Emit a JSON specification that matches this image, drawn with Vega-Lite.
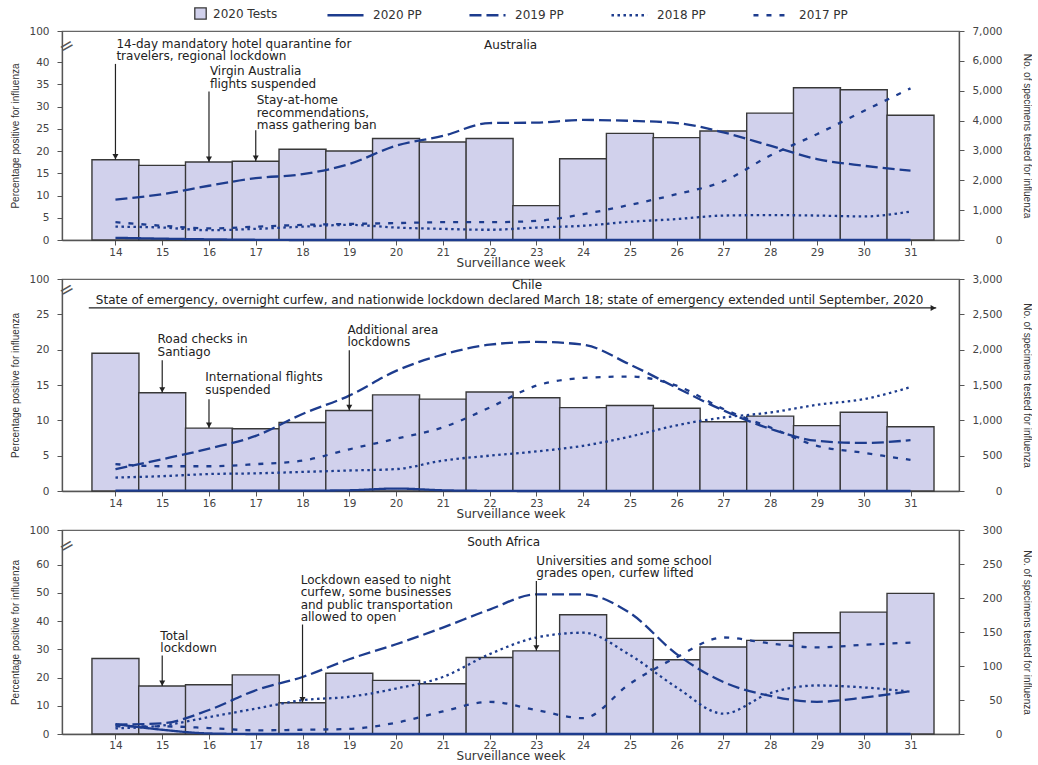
{
"$schema": "https://vega.github.io/schema/vega-lite/v6.json",
"padding": {"left": 10, "top": -5, "right": 0, "bottom": 0},
"spacing": 3,
"config": {
  "font": "DejaVu Sans",
  "view": {"stroke": "#666", "strokeWidth": 1.2},
  "axis": {"grid": false, "domainColor": "#555", "tickColor": "#555", "labelColor": "#444", "labelFontSize": 10.5, "titleColor": "#333", "titleFontWeight": "normal", "domainWidth": 1.3, "tickSize": 5},
  "legend": {"labelFontSize": 12, "labelColor": "#333", "labelFont": "DejaVu Sans"}
},
"datasets": {
  "bars": [
    {"c":"A","w":14,"t":2690},{"c":"A","w":15,"t":2500},{"c":"A","w":16,"t":2610},{"c":"A","w":17,"t":2640},{"c":"A","w":18,"t":3040},{"c":"A","w":19,"t":2980},{"c":"A","w":20,"t":3400},{"c":"A","w":21,"t":3280},{"c":"A","w":22,"t":3400},{"c":"A","w":23,"t":1150},{"c":"A","w":24,"t":2720},{"c":"A","w":25,"t":3570},{"c":"A","w":26,"t":3430},{"c":"A","w":27,"t":3650},{"c":"A","w":28,"t":4250},{"c":"A","w":29,"t":5100},{"c":"A","w":30,"t":5030},{"c":"A","w":31,"t":4180},
    {"c":"C","w":14,"t":1950},{"c":"C","w":15,"t":1390},{"c":"C","w":16,"t":890},{"c":"C","w":17,"t":880},{"c":"C","w":18,"t":970},{"c":"C","w":19,"t":1140},{"c":"C","w":20,"t":1360},{"c":"C","w":21,"t":1300},{"c":"C","w":22,"t":1400},{"c":"C","w":23,"t":1320},{"c":"C","w":24,"t":1180},{"c":"C","w":25,"t":1210},{"c":"C","w":26,"t":1170},{"c":"C","w":27,"t":980},{"c":"C","w":28,"t":1060},{"c":"C","w":29,"t":925},{"c":"C","w":30,"t":1115},{"c":"C","w":31,"t":910},
    {"c":"S","w":14,"t":111},{"c":"S","w":15,"t":70.6},{"c":"S","w":16,"t":72.5},{"c":"S","w":17,"t":87},{"c":"S","w":18,"t":46},{"c":"S","w":19,"t":89.4},{"c":"S","w":20,"t":78.8},{"c":"S","w":21,"t":73.9},{"c":"S","w":22,"t":112.6},{"c":"S","w":23,"t":122.3},{"c":"S","w":24,"t":175.4},{"c":"S","w":25,"t":140.6},{"c":"S","w":26,"t":109.3},{"c":"S","w":27,"t":128},{"c":"S","w":28,"t":137.7},{"c":"S","w":29,"t":148.8},{"c":"S","w":30,"t":179.3},{"c":"S","w":31,"t":206.8}
  ],
  "lines": [
    {"c":"A","s":"2017 PP","w":14,"p":4.0},{"c":"A","s":"2017 PP","w":15,"p":3.2},{"c":"A","s":"2017 PP","w":16,"p":2.6},{"c":"A","s":"2017 PP","w":17,"p":3.0},{"c":"A","s":"2017 PP","w":18,"p":3.4},{"c":"A","s":"2017 PP","w":19,"p":3.6},{"c":"A","s":"2017 PP","w":20,"p":3.8},{"c":"A","s":"2017 PP","w":21,"p":4.0},{"c":"A","s":"2017 PP","w":22,"p":4.0},{"c":"A","s":"2017 PP","w":23,"p":4.3},{"c":"A","s":"2017 PP","w":24,"p":5.8},{"c":"A","s":"2017 PP","w":25,"p":7.9},{"c":"A","s":"2017 PP","w":26,"p":10.3},{"c":"A","s":"2017 PP","w":27,"p":13.2},{"c":"A","s":"2017 PP","w":28,"p":19.0},{"c":"A","s":"2017 PP","w":29,"p":23.8},{"c":"A","s":"2017 PP","w":30,"p":29.0},{"c":"A","s":"2017 PP","w":31,"p":34.1},
    {"c":"A","s":"2018 PP","w":14,"p":3.0},{"c":"A","s":"2018 PP","w":15,"p":2.8},{"c":"A","s":"2018 PP","w":16,"p":2.2},{"c":"A","s":"2018 PP","w":17,"p":2.5},{"c":"A","s":"2018 PP","w":18,"p":3.0},{"c":"A","s":"2018 PP","w":19,"p":3.4},{"c":"A","s":"2018 PP","w":20,"p":2.8},{"c":"A","s":"2018 PP","w":21,"p":2.5},{"c":"A","s":"2018 PP","w":22,"p":2.3},{"c":"A","s":"2018 PP","w":23,"p":2.8},{"c":"A","s":"2018 PP","w":24,"p":3.2},{"c":"A","s":"2018 PP","w":25,"p":4.1},{"c":"A","s":"2018 PP","w":26,"p":4.7},{"c":"A","s":"2018 PP","w":27,"p":5.5},{"c":"A","s":"2018 PP","w":28,"p":5.6},{"c":"A","s":"2018 PP","w":29,"p":5.5},{"c":"A","s":"2018 PP","w":30,"p":5.3},{"c":"A","s":"2018 PP","w":31,"p":6.4},
    {"c":"A","s":"2019 PP","w":14,"p":9.1},{"c":"A","s":"2019 PP","w":15,"p":10.3},{"c":"A","s":"2019 PP","w":16,"p":12.2},{"c":"A","s":"2019 PP","w":17,"p":13.9},{"c":"A","s":"2019 PP","w":18,"p":14.8},{"c":"A","s":"2019 PP","w":19,"p":17.1},{"c":"A","s":"2019 PP","w":20,"p":21.2},{"c":"A","s":"2019 PP","w":21,"p":23.4},{"c":"A","s":"2019 PP","w":22,"p":26.3},{"c":"A","s":"2019 PP","w":23,"p":26.4},{"c":"A","s":"2019 PP","w":24,"p":27.0},{"c":"A","s":"2019 PP","w":25,"p":26.8},{"c":"A","s":"2019 PP","w":26,"p":26.3},{"c":"A","s":"2019 PP","w":27,"p":24.2},{"c":"A","s":"2019 PP","w":28,"p":21.2},{"c":"A","s":"2019 PP","w":29,"p":18.2},{"c":"A","s":"2019 PP","w":30,"p":16.7},{"c":"A","s":"2019 PP","w":31,"p":15.6},
    {"c":"A","s":"2020 PP","w":14,"p":0.5},{"c":"A","s":"2020 PP","w":15,"p":0.3},{"c":"A","s":"2020 PP","w":16,"p":0.15},{"c":"A","s":"2020 PP","w":17,"p":0.05},{"c":"A","s":"2020 PP","w":18,"p":0},{"c":"A","s":"2020 PP","w":19,"p":0},{"c":"A","s":"2020 PP","w":20,"p":0},{"c":"A","s":"2020 PP","w":21,"p":0},{"c":"A","s":"2020 PP","w":22,"p":0},{"c":"A","s":"2020 PP","w":23,"p":0},{"c":"A","s":"2020 PP","w":24,"p":0},{"c":"A","s":"2020 PP","w":25,"p":0},{"c":"A","s":"2020 PP","w":26,"p":0},{"c":"A","s":"2020 PP","w":27,"p":0},{"c":"A","s":"2020 PP","w":28,"p":0},{"c":"A","s":"2020 PP","w":29,"p":0},{"c":"A","s":"2020 PP","w":30,"p":0},{"c":"A","s":"2020 PP","w":31,"p":0},
    {"c":"C","s":"2017 PP","w":14,"p":3.8},{"c":"C","s":"2017 PP","w":15,"p":3.5},{"c":"C","s":"2017 PP","w":16,"p":3.5},{"c":"C","s":"2017 PP","w":17,"p":3.8},{"c":"C","s":"2017 PP","w":18,"p":4.3},{"c":"C","s":"2017 PP","w":19,"p":5.9},{"c":"C","s":"2017 PP","w":20,"p":7.4},{"c":"C","s":"2017 PP","w":21,"p":9.0},{"c":"C","s":"2017 PP","w":22,"p":11.8},{"c":"C","s":"2017 PP","w":23,"p":14.9},{"c":"C","s":"2017 PP","w":24,"p":16.0},{"c":"C","s":"2017 PP","w":25,"p":16.2},{"c":"C","s":"2017 PP","w":26,"p":14.9},{"c":"C","s":"2017 PP","w":27,"p":11.6},{"c":"C","s":"2017 PP","w":28,"p":9.0},{"c":"C","s":"2017 PP","w":29,"p":6.4},{"c":"C","s":"2017 PP","w":30,"p":5.4},{"c":"C","s":"2017 PP","w":31,"p":4.4},
    {"c":"C","s":"2018 PP","w":14,"p":1.9},{"c":"C","s":"2018 PP","w":15,"p":2.1},{"c":"C","s":"2018 PP","w":16,"p":2.4},{"c":"C","s":"2018 PP","w":17,"p":2.5},{"c":"C","s":"2018 PP","w":18,"p":2.7},{"c":"C","s":"2018 PP","w":19,"p":2.9},{"c":"C","s":"2018 PP","w":20,"p":3.1},{"c":"C","s":"2018 PP","w":21,"p":4.3},{"c":"C","s":"2018 PP","w":22,"p":5.0},{"c":"C","s":"2018 PP","w":23,"p":5.6},{"c":"C","s":"2018 PP","w":24,"p":6.4},{"c":"C","s":"2018 PP","w":25,"p":7.7},{"c":"C","s":"2018 PP","w":26,"p":9.3},{"c":"C","s":"2018 PP","w":27,"p":10.4},{"c":"C","s":"2018 PP","w":28,"p":11.1},{"c":"C","s":"2018 PP","w":29,"p":12.2},{"c":"C","s":"2018 PP","w":30,"p":13.0},{"c":"C","s":"2018 PP","w":31,"p":14.7},
    {"c":"C","s":"2019 PP","w":14,"p":3.1},{"c":"C","s":"2019 PP","w":15,"p":4.5},{"c":"C","s":"2019 PP","w":16,"p":6.0},{"c":"C","s":"2019 PP","w":17,"p":7.8},{"c":"C","s":"2019 PP","w":18,"p":10.9},{"c":"C","s":"2019 PP","w":19,"p":13.5},{"c":"C","s":"2019 PP","w":20,"p":17.0},{"c":"C","s":"2019 PP","w":21,"p":19.3},{"c":"C","s":"2019 PP","w":22,"p":20.7},{"c":"C","s":"2019 PP","w":23,"p":21.1},{"c":"C","s":"2019 PP","w":24,"p":20.7},{"c":"C","s":"2019 PP","w":25,"p":17.9},{"c":"C","s":"2019 PP","w":26,"p":14.6},{"c":"C","s":"2019 PP","w":27,"p":11.4},{"c":"C","s":"2019 PP","w":28,"p":8.8},{"c":"C","s":"2019 PP","w":29,"p":7.1},{"c":"C","s":"2019 PP","w":30,"p":6.8},{"c":"C","s":"2019 PP","w":31,"p":7.2},
    {"c":"C","s":"2020 PP","w":14,"p":0.05},{"c":"C","s":"2020 PP","w":15,"p":0.05},{"c":"C","s":"2020 PP","w":16,"p":0.05},{"c":"C","s":"2020 PP","w":17,"p":0.05},{"c":"C","s":"2020 PP","w":18,"p":0.05},{"c":"C","s":"2020 PP","w":19,"p":0.1},{"c":"C","s":"2020 PP","w":20,"p":0.35},{"c":"C","s":"2020 PP","w":21,"p":0.1},{"c":"C","s":"2020 PP","w":22,"p":0.02},{"c":"C","s":"2020 PP","w":23,"p":0},{"c":"C","s":"2020 PP","w":24,"p":0},{"c":"C","s":"2020 PP","w":25,"p":0},{"c":"C","s":"2020 PP","w":26,"p":0},{"c":"C","s":"2020 PP","w":27,"p":0},{"c":"C","s":"2020 PP","w":28,"p":0},{"c":"C","s":"2020 PP","w":29,"p":0},{"c":"C","s":"2020 PP","w":30,"p":0},{"c":"C","s":"2020 PP","w":31,"p":0},
    {"c":"S","s":"2017 PP","w":14,"p":2.7},{"c":"S","s":"2017 PP","w":15,"p":2.7},{"c":"S","s":"2017 PP","w":16,"p":2.1},{"c":"S","s":"2017 PP","w":17,"p":1.3},{"c":"S","s":"2017 PP","w":18,"p":1.5},{"c":"S","s":"2017 PP","w":19,"p":1.8},{"c":"S","s":"2017 PP","w":20,"p":4.0},{"c":"S","s":"2017 PP","w":21,"p":8.0},{"c":"S","s":"2017 PP","w":22,"p":11.4},{"c":"S","s":"2017 PP","w":23,"p":8.5},{"c":"S","s":"2017 PP","w":24,"p":5.6},{"c":"S","s":"2017 PP","w":25,"p":17.8},{"c":"S","s":"2017 PP","w":26,"p":27.2},{"c":"S","s":"2017 PP","w":27,"p":34.2},{"c":"S","s":"2017 PP","w":28,"p":32.1},{"c":"S","s":"2017 PP","w":29,"p":30.7},{"c":"S","s":"2017 PP","w":30,"p":31.6},{"c":"S","s":"2017 PP","w":31,"p":32.4},
    {"c":"S","s":"2018 PP","w":14,"p":2.0},{"c":"S","s":"2018 PP","w":15,"p":3.0},{"c":"S","s":"2018 PP","w":16,"p":6.0},{"c":"S","s":"2018 PP","w":17,"p":9.0},{"c":"S","s":"2018 PP","w":18,"p":12.0},{"c":"S","s":"2018 PP","w":19,"p":13.2},{"c":"S","s":"2018 PP","w":20,"p":16.1},{"c":"S","s":"2018 PP","w":21,"p":20.2},{"c":"S","s":"2018 PP","w":22,"p":28.3},{"c":"S","s":"2018 PP","w":23,"p":34.2},{"c":"S","s":"2018 PP","w":24,"p":35.9},{"c":"S","s":"2018 PP","w":25,"p":28.0},{"c":"S","s":"2018 PP","w":26,"p":16.5},{"c":"S","s":"2018 PP","w":27,"p":7.2},{"c":"S","s":"2018 PP","w":28,"p":14.5},{"c":"S","s":"2018 PP","w":29,"p":17.2},{"c":"S","s":"2018 PP","w":30,"p":16.5},{"c":"S","s":"2018 PP","w":31,"p":15.0},
    {"c":"S","s":"2019 PP","w":14,"p":3.3},{"c":"S","s":"2019 PP","w":15,"p":3.8},{"c":"S","s":"2019 PP","w":16,"p":8.5},{"c":"S","s":"2019 PP","w":17,"p":15.5},{"c":"S","s":"2019 PP","w":18,"p":20.2},{"c":"S","s":"2019 PP","w":19,"p":26.5},{"c":"S","s":"2019 PP","w":20,"p":31.8},{"c":"S","s":"2019 PP","w":21,"p":37.7},{"c":"S","s":"2019 PP","w":22,"p":44.1},{"c":"S","s":"2019 PP","w":23,"p":49.5},{"c":"S","s":"2019 PP","w":24,"p":49.5},{"c":"S","s":"2019 PP","w":25,"p":42.9},{"c":"S","s":"2019 PP","w":26,"p":28.3},{"c":"S","s":"2019 PP","w":27,"p":18.4},{"c":"S","s":"2019 PP","w":28,"p":13.5},{"c":"S","s":"2019 PP","w":29,"p":11.4},{"c":"S","s":"2019 PP","w":30,"p":12.9},{"c":"S","s":"2019 PP","w":31,"p":15.2},
    {"c":"S","s":"2020 PP","w":14,"p":3.5},{"c":"S","s":"2020 PP","w":15,"p":1.5},{"c":"S","s":"2020 PP","w":16,"p":0.2},{"c":"S","s":"2020 PP","w":17,"p":0},{"c":"S","s":"2020 PP","w":18,"p":0},{"c":"S","s":"2020 PP","w":19,"p":0},{"c":"S","s":"2020 PP","w":20,"p":0},{"c":"S","s":"2020 PP","w":21,"p":0},{"c":"S","s":"2020 PP","w":22,"p":0},{"c":"S","s":"2020 PP","w":23,"p":0},{"c":"S","s":"2020 PP","w":24,"p":0},{"c":"S","s":"2020 PP","w":25,"p":0},{"c":"S","s":"2020 PP","w":26,"p":0},{"c":"S","s":"2020 PP","w":27,"p":0},{"c":"S","s":"2020 PP","w":28,"p":0},{"c":"S","s":"2020 PP","w":29,"p":0},{"c":"S","s":"2020 PP","w":30,"p":0},{"c":"S","s":"2020 PP","w":31,"p":0}
  ],
  "notes": [
    {"c":"A","w":14.02,"p":45.3,"txt":"14-day mandatory hotel quarantine for\ntravelers, regional lockdown"},
    {"c":"A","w":16.02,"p":39.1,"txt":"Virgin Australia\nflights suspended"},
    {"c":"A","w":17.02,"p":32.5,"txt":"Stay-at-home\nrecommendations,\nmass gathering ban"},
    {"c":"C","w":13.58,"p":27.7,"txt":"State of emergency, overnight curfew, and nationwide lockdown declared March 18; state of emergency extended until September, 2020"},
    {"c":"C","w":14.9,"p":22.2,"txt":"Road checks in\nSantiago"},
    {"c":"C","w":15.92,"p":16.8,"txt":"International flights\nsuspended"},
    {"c":"C","w":18.96,"p":23.5,"txt":"Additional area\nlockdowns"},
    {"c":"S","w":14.96,"p":36.6,"txt":"Total\nlockdown"},
    {"c":"S","w":17.96,"p":56.5,"txt":"Lockdown eased to night\ncurfew, some businesses\nand public transportation\nallowed to open"},
    {"c":"S","w":23.0,"p":63.1,"txt":"Universities and some school\ngrades open, curfew lifted"}
  ],
  "titles": [
    {"c":"A","w":22.45,"p":43.9,"txt":"Australia"},
    {"c":"C","w":22.8,"p":29.1,"txt":"Chile"},
    {"c":"S","w":22.3,"p":68.0,"txt":"South Africa"}
  ],
  "arrows": [
    {"c":"A","w":14,"p":39.6,"p2":18.06},{"c":"A","w":16,"p":33.4,"p2":17.52},{"c":"A","w":17,"p":24.7,"p2":17.73},
    {"c":"C","w":15,"p":18.5,"p2":13.9},{"c":"C","w":16,"p":13.0,"p2":8.9},{"c":"C","w":19,"p":19.9,"p2":11.4},
    {"c":"S","w":15,"p":27.8,"p2":17.0},{"c":"S","w":18,"p":38.8,"p2":11.1},{"c":"S","w":23,"p":54.2,"p2":29.5}
  ],
  "harrow": [{"c":"C","w":13.43,"w2":31.55,"p":25.9}],
  "breaks": [{"c":"A","w":12.964,"p":43.5},{"c":"C","w":12.964,"p":28.4},{"c":"S","w":12.964,"p":66.5}]
},
"vconcat": [
  {
    "width": 897, "height": 209,
    "resolve": {"scale": {"y": "independent"}},
    "layer": [
      {
        "data": {"name": "bars"},
        "transform": [{"filter": "datum.c == 'A'"}],
        "mark": {"type": "bar", "width": 47, "stroke": "#383838", "strokeWidth": 1.4},
        "encoding": {
          "x": {"field": "w", "type": "quantitative", "scale": {"domain": [12.964, 31.93], "nice": false, "zero": false}, "axis": {"values": [14,15,16,17,18,19,20,21,22,23,24,25,26,27,28,29,30,31], "title": "Surveillance week", "titleFontSize": 12, "labelPadding": 2, "titlePadding": 0, "labelFlush": false}},
          "y": {"field": "t", "type": "quantitative", "scale": {"domain": [0, 7000], "nice": false}, "axis": {"orient": "right", "values": [0,1000,2000,3000,4000,5000,6000,7000], "labelExpr": "format(datum.value, ',.0f')", "labelAlign": "right", "labelPadding": 38, "title": "No. of specimens tested for influenza", "titleFont": "Liberation Sans", "titleFontSize": 10, "titlePadding": 19}},
          "fill": {"datum": "2020 Tests", "type": "nominal", "scale": {"domain": ["2020 Tests"], "range": ["#d1d1ec"]}, "legend": {"orient": "none", "legendX": 132, "legendY": -24, "title": null, "symbolType": "square", "symbolSize": 130, "symbolStrokeColor": "#333", "symbolStrokeWidth": 1.3, "labelOffset": 6, "padding": 0}}
        }
      },
      {
        "data": {"name": "lines"},
        "transform": [{"filter": "datum.c == 'A'"}],
        "mark": {"type": "line", "interpolate": "monotone", "color": "#1d3c8e", "strokeWidth": 2.3},
        "encoding": {
          "x": {"field": "w", "type": "quantitative"},
          "y": {"field": "p", "type": "quantitative", "scale": {"domain": [0, 47], "nice": false}, "axis": {"orient": "left", "values": [0,5,10,15,20,25,30,35,40,47], "labelExpr": "datum.value > 46 ? '100' : datum.label", "labelPadding": 8, "title": "Percentage positive for influenza", "titleFont": "Liberation Sans", "titleFontSize": 10, "titlePadding": 8}},
          "strokeDash": {"field": "s", "type": "nominal", "scale": {"domain": ["2020 PP", "2019 PP", "2018 PP", "2017 PP"], "range": [[1, 0], [12, 5], [2.5, 3.5], [5, 8]]}, "legend": {"orient": "none", "legendX": 264, "legendY": -35.5, "direction": "horizontal", "title": null, "symbolType": "stroke", "symbolSize": 1300, "symbolStrokeColor": "#1d3c8e", "symbolStrokeWidth": 2.5, "labelOffset": 8, "columnPadding": 42, "padding": 0}}
        }
      },
      {
        "data": {"name": "notes"},
        "transform": [{"filter": "datum.c == 'A'"}],
        "mark": {"type": "text", "align": "left", "baseline": "top", "lineBreak": "\n", "fontSize": 12, "lineHeight": 12.5, "color": "#222"},
        "encoding": {"x": {"field": "w", "type": "quantitative"}, "y": {"field": "p", "type": "quantitative", "scale": {"domain": [0, 47], "nice": false}, "axis": null}, "text": {"field": "txt"}}
      },
      {
        "data": {"name": "titles"},
        "transform": [{"filter": "datum.c == 'A'"}],
        "mark": {"type": "text", "align": "center", "baseline": "middle", "fontSize": 12, "color": "#222"},
        "encoding": {"x": {"field": "w", "type": "quantitative"}, "y": {"field": "p", "type": "quantitative", "scale": {"domain": [0, 47], "nice": false}, "axis": null}, "text": {"field": "txt"}}
      },
      {
        "data": {"name": "arrows"},
        "transform": [{"filter": "datum.c == 'A'"}],
        "mark": {"type": "rule", "color": "#222", "strokeWidth": 1.2},
        "encoding": {"x": {"field": "w", "type": "quantitative"}, "y": {"field": "p", "type": "quantitative", "scale": {"domain": [0, 47], "nice": false}, "axis": null}, "y2": {"field": "p2"}}
      },
      {
        "data": {"name": "arrows"},
        "transform": [{"filter": "datum.c == 'A'"}],
        "mark": {"type": "point", "shape": "triangle-down", "filled": true, "size": 36, "color": "#222", "opacity": 1, "yOffset": -3},
        "encoding": {"x": {"field": "w", "type": "quantitative"}, "y": {"field": "p2", "type": "quantitative", "scale": {"domain": [0, 47], "nice": false}, "axis": null}}
      },
      {
        "data": {"name": "breaks"},
        "transform": [{"filter": "datum.c == 'A'"}],
        "mark": {"type": "text", "text": "=", "fontSize": 18, "angle": -30, "color": "#555", "align": "center", "baseline": "middle"},
        "encoding": {"x": {"field": "w", "type": "quantitative"}, "y": {"field": "p", "type": "quantitative", "scale": {"domain": [0, 47], "nice": false}, "axis": null}}
      }
    ]
  },
  {
    "width": 897, "height": 212,
    "resolve": {"scale": {"y": "independent"}},
    "layer": [
      {
        "data": {"name": "bars"},
        "transform": [{"filter": "datum.c == 'C'"}],
        "mark": {"type": "bar", "width": 47, "stroke": "#383838", "strokeWidth": 1.4},
        "encoding": {
          "x": {"field": "w", "type": "quantitative", "scale": {"domain": [12.964, 31.93], "nice": false, "zero": false}, "axis": {"values": [14,15,16,17,18,19,20,21,22,23,24,25,26,27,28,29,30,31], "title": "Surveillance week", "titleFontSize": 12, "labelPadding": 2, "titlePadding": 0, "labelFlush": false}},
          "y": {"field": "t", "type": "quantitative", "scale": {"domain": [0, 3000], "nice": false}, "axis": {"orient": "right", "values": [0,500,1000,1500,2000,2500,3000], "labelExpr": "format(datum.value, ',.0f')", "labelAlign": "right", "labelPadding": 38, "title": "No. of specimens tested for influenza", "titleFont": "Liberation Sans", "titleFontSize": 10, "titlePadding": 19}},
          "fill": {"datum": "2020 Tests", "type": "nominal", "scale": {"domain": ["2020 Tests"], "range": ["#d1d1ec"]}}
        }
      },
      {
        "data": {"name": "lines"},
        "transform": [{"filter": "datum.c == 'C'"}],
        "mark": {"type": "line", "interpolate": "monotone", "color": "#1d3c8e", "strokeWidth": 2.3},
        "encoding": {
          "x": {"field": "w", "type": "quantitative"},
          "y": {"field": "p", "type": "quantitative", "scale": {"domain": [0, 30], "nice": false}, "axis": {"orient": "left", "values": [0,5,10,15,20,25,30], "labelExpr": "datum.value > 29 ? '100' : datum.label", "labelPadding": 8, "title": "Percentage positive for influenza", "titleFont": "Liberation Sans", "titleFontSize": 10, "titlePadding": 8}},
          "strokeDash": {"field": "s", "type": "nominal", "scale": {"domain": ["2020 PP", "2019 PP", "2018 PP", "2017 PP"], "range": [[1, 0], [12, 5], [2.5, 3.5], [5, 8]]}}
        }
      },
      {
        "data": {"name": "notes"},
        "transform": [{"filter": "datum.c == 'C'"}],
        "mark": {"type": "text", "align": "left", "baseline": "top", "lineBreak": "\n", "fontSize": 12, "lineHeight": 12.5, "color": "#222"},
        "encoding": {"x": {"field": "w", "type": "quantitative"}, "y": {"field": "p", "type": "quantitative", "scale": {"domain": [0, 30], "nice": false}, "axis": null}, "text": {"field": "txt"}}
      },
      {
        "data": {"name": "titles"},
        "transform": [{"filter": "datum.c == 'C'"}],
        "mark": {"type": "text", "align": "center", "baseline": "middle", "fontSize": 12, "color": "#222"},
        "encoding": {"x": {"field": "w", "type": "quantitative"}, "y": {"field": "p", "type": "quantitative", "scale": {"domain": [0, 30], "nice": false}, "axis": null}, "text": {"field": "txt"}}
      },
      {
        "data": {"name": "arrows"},
        "transform": [{"filter": "datum.c == 'C'"}],
        "mark": {"type": "rule", "color": "#222", "strokeWidth": 1.2},
        "encoding": {"x": {"field": "w", "type": "quantitative"}, "y": {"field": "p", "type": "quantitative", "scale": {"domain": [0, 30], "nice": false}, "axis": null}, "y2": {"field": "p2"}}
      },
      {
        "data": {"name": "arrows"},
        "transform": [{"filter": "datum.c == 'C'"}],
        "mark": {"type": "point", "shape": "triangle-down", "filled": true, "size": 36, "color": "#222", "opacity": 1, "yOffset": -3},
        "encoding": {"x": {"field": "w", "type": "quantitative"}, "y": {"field": "p2", "type": "quantitative", "scale": {"domain": [0, 30], "nice": false}, "axis": null}}
      },
      {
        "data": {"name": "harrow"},
        "mark": {"type": "rule", "color": "#222", "strokeWidth": 1.2},
        "encoding": {"x": {"field": "w", "type": "quantitative"}, "x2": {"field": "w2"}, "y": {"field": "p", "type": "quantitative", "scale": {"domain": [0, 30], "nice": false}, "axis": null}}
      },
      {
        "data": {"name": "harrow"},
        "mark": {"type": "point", "shape": "triangle-right", "filled": true, "size": 36, "color": "#222", "opacity": 1, "xOffset": -3},
        "encoding": {"x": {"field": "w2", "type": "quantitative"}, "y": {"field": "p", "type": "quantitative", "scale": {"domain": [0, 30], "nice": false}, "axis": null}}
      },
      {
        "data": {"name": "breaks"},
        "transform": [{"filter": "datum.c == 'C'"}],
        "mark": {"type": "text", "text": "=", "fontSize": 18, "angle": -30, "color": "#555", "align": "center", "baseline": "middle"},
        "encoding": {"x": {"field": "w", "type": "quantitative"}, "y": {"field": "p", "type": "quantitative", "scale": {"domain": [0, 30], "nice": false}, "axis": null}}
      }
    ]
  },
  {
    "width": 897, "height": 204,
    "resolve": {"scale": {"y": "independent"}},
    "layer": [
      {
        "data": {"name": "bars"},
        "transform": [{"filter": "datum.c == 'S'"}],
        "mark": {"type": "bar", "width": 47, "stroke": "#383838", "strokeWidth": 1.4},
        "encoding": {
          "x": {"field": "w", "type": "quantitative", "scale": {"domain": [12.964, 31.93], "nice": false, "zero": false}, "axis": {"values": [14,15,16,17,18,19,20,21,22,23,24,25,26,27,28,29,30,31], "title": "Surveillance week", "titleFontSize": 12, "labelPadding": 1, "titlePadding": 0, "labelFlush": false}},
          "y": {"field": "t", "type": "quantitative", "scale": {"domain": [0, 300], "nice": false}, "axis": {"orient": "right", "values": [0,50,100,150,200,250,300], "labelExpr": "format(datum.value, ',.0f')", "labelAlign": "right", "labelPadding": 38, "title": "No. of specimens tested for influenza", "titleFont": "Liberation Sans", "titleFontSize": 10, "titlePadding": 19}},
          "fill": {"datum": "2020 Tests", "type": "nominal", "scale": {"domain": ["2020 Tests"], "range": ["#d1d1ec"]}}
        }
      },
      {
        "data": {"name": "lines"},
        "transform": [{"filter": "datum.c == 'S'"}],
        "mark": {"type": "line", "interpolate": "monotone", "color": "#1d3c8e", "strokeWidth": 2.3},
        "encoding": {
          "x": {"field": "w", "type": "quantitative"},
          "y": {"field": "p", "type": "quantitative", "scale": {"domain": [0, 72.3], "nice": false}, "axis": {"orient": "left", "values": [0,10,20,30,40,50,60,72.3], "labelExpr": "datum.value > 71 ? '100' : datum.label", "labelPadding": 8, "title": "Percentage positive for influenza", "titleFont": "Liberation Sans", "titleFontSize": 10, "titlePadding": 8}},
          "strokeDash": {"field": "s", "type": "nominal", "scale": {"domain": ["2020 PP", "2019 PP", "2018 PP", "2017 PP"], "range": [[1, 0], [12, 5], [2.5, 3.5], [5, 8]]}}
        }
      },
      {
        "data": {"name": "notes"},
        "transform": [{"filter": "datum.c == 'S'"}],
        "mark": {"type": "text", "align": "left", "baseline": "top", "lineBreak": "\n", "fontSize": 12, "lineHeight": 12.5, "color": "#222"},
        "encoding": {"x": {"field": "w", "type": "quantitative"}, "y": {"field": "p", "type": "quantitative", "scale": {"domain": [0, 72.3], "nice": false}, "axis": null}, "text": {"field": "txt"}}
      },
      {
        "data": {"name": "titles"},
        "transform": [{"filter": "datum.c == 'S'"}],
        "mark": {"type": "text", "align": "center", "baseline": "middle", "fontSize": 12, "color": "#222"},
        "encoding": {"x": {"field": "w", "type": "quantitative"}, "y": {"field": "p", "type": "quantitative", "scale": {"domain": [0, 72.3], "nice": false}, "axis": null}, "text": {"field": "txt"}}
      },
      {
        "data": {"name": "arrows"},
        "transform": [{"filter": "datum.c == 'S'"}],
        "mark": {"type": "rule", "color": "#222", "strokeWidth": 1.2},
        "encoding": {"x": {"field": "w", "type": "quantitative"}, "y": {"field": "p", "type": "quantitative", "scale": {"domain": [0, 72.3], "nice": false}, "axis": null}, "y2": {"field": "p2"}}
      },
      {
        "data": {"name": "arrows"},
        "transform": [{"filter": "datum.c == 'S'"}],
        "mark": {"type": "point", "shape": "triangle-down", "filled": true, "size": 36, "color": "#222", "opacity": 1, "yOffset": -3},
        "encoding": {"x": {"field": "w", "type": "quantitative"}, "y": {"field": "p2", "type": "quantitative", "scale": {"domain": [0, 72.3], "nice": false}, "axis": null}}
      },
      {
        "data": {"name": "breaks"},
        "transform": [{"filter": "datum.c == 'S'"}],
        "mark": {"type": "text", "text": "=", "fontSize": 18, "angle": -30, "color": "#555", "align": "center", "baseline": "middle"},
        "encoding": {"x": {"field": "w", "type": "quantitative"}, "y": {"field": "p", "type": "quantitative", "scale": {"domain": [0, 72.3], "nice": false}, "axis": null}}
      }
    ]
  }
]
}
